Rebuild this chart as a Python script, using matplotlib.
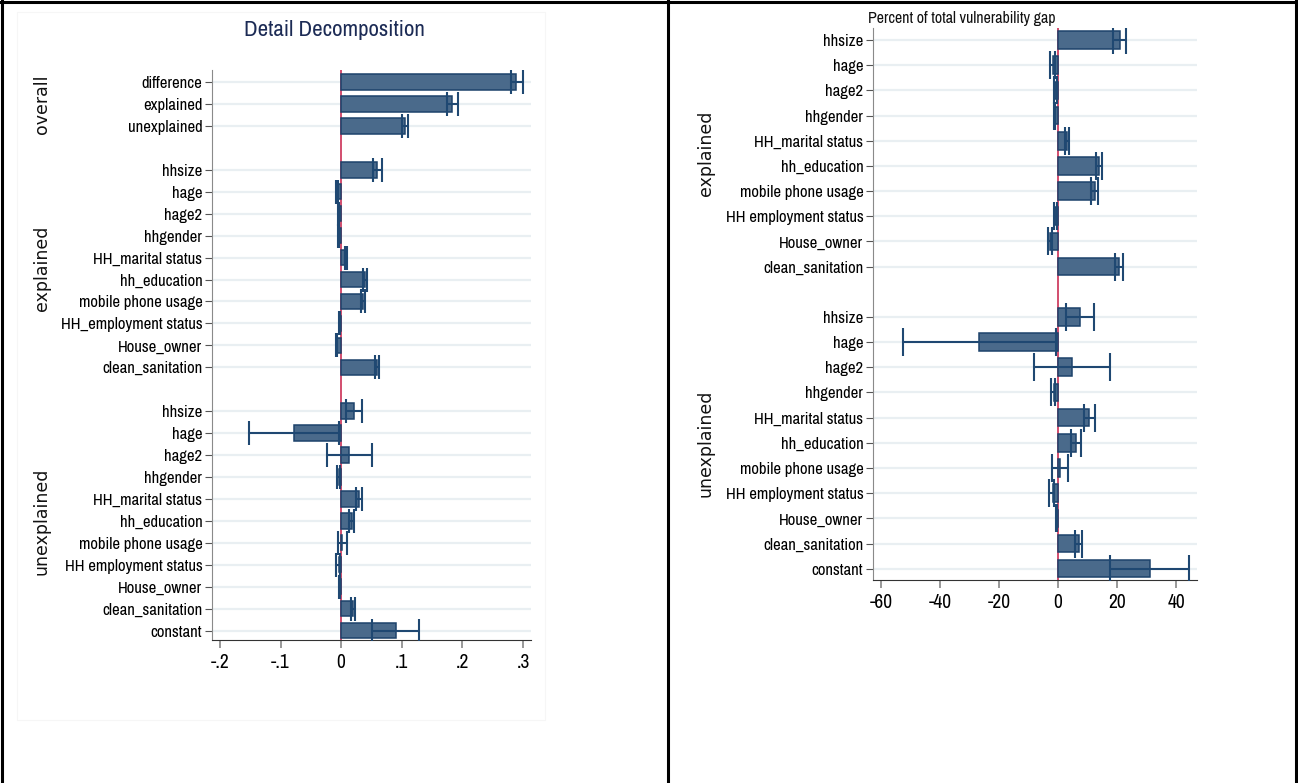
import numpy as np
import matplotlib.pyplot as plt
from matplotlib import font_manager as fm
from matplotlib.lines import Line2D
from matplotlib.patches import Rectangle
import matplotlib.transforms as mtransforms

# pick a narrow sans face if one is installed
_have = {f.name for f in fm.fontManager.ttflist}
_cands = ['Liberation Sans Narrow', 'Arial Narrow', 'Archivo Narrow', 'PT Sans Narrow',
          'Roboto Condensed', 'Open Sans Condensed', 'Liberation Sans']
NARROW = [c for c in _cands if c in _have][:1] + ['DejaVu Sans']

# data: left panel (difference decomposition)
overall_labels = ['difference', 'explained', 'unexplained']
overall_b = [0.288, 0.1835, 0.106]
overall_lo = [0.2795, 0.174, 0.100]
overall_hi = [0.299, 0.193, 0.111]

expl_labels_l = ['hhsize', 'hage', 'hage2', 'hhgender', 'HH_marital status', 'hh_education',
                 'mobile phone usage', 'HH_employment status', 'House_owner', 'clean_sanitation']
expl_b_l = [0.0593, -0.0066, -0.004, -0.0044, 0.008, 0.0396, 0.0357, -0.003, -0.008, 0.059]
expl_lo_l = [0.052, -0.0085, -0.0052, -0.0052, 0.006, 0.036, 0.032, -0.0038, -0.0093, 0.0555]
expl_hi_l = [0.0676, -0.0045, -0.0028, -0.0036, 0.0104, 0.043, 0.039, -0.0022, -0.0066, 0.063]

unexpl_labels_l = ['hhsize', 'hage', 'hage2', 'hhgender', 'HH_marital status', 'hh_education',
                   'mobile phone usage', 'HH employment status', 'House_owner', 'clean_sanitation',
                   'constant']
unexpl_b_l = [0.0209, -0.078, 0.0132, -0.004, 0.030, 0.0176, 0.0016, -0.004, -0.002, 0.0198, 0.0896]
unexpl_lo_l = [0.008, -0.152, -0.024, -0.007, 0.0247, 0.0126, -0.006, -0.008, -0.0028, 0.0165, 0.051]
unexpl_hi_l = [0.0346, -0.0044, 0.0505, -0.0016, 0.035, 0.0214, 0.0093, -0.002, -0.0012, 0.0236, 0.1275]

left_xticks = [-0.2, -0.1, 0, 0.1, 0.2, 0.3]
left_xticklabels = ['-.2', '-.1', '0', '.1', '.2', '.3']

# data: right panel (percent of total gap)
expl_labels_r = ['hhsize', 'hage', 'hage2', 'hhgender', 'HH_marital status', 'hh_education',
                 'mobile phone usage', 'HH employment status', 'House_owner', 'clean_sanitation']
expl_b_r = [20.9, -1.6, -0.9, -1.2, 3.05, 13.8, 12.4, -0.9, -2.7, 20.6]
expl_lo_r = [18.6, -2.6, -1.5, -1.5, 2.3, 12.9, 11.3, -1.2, -3.3, 19.3]
expl_hi_r = [23.0, -1.0, -0.3, -0.9, 3.7, 14.9, 13.4, -0.5, -2.0, 22.0]

unexpl_labels_r = ['hhsize', 'hage', 'hage2', 'hhgender', 'HH_marital status', 'hh_education',
                   'mobile phone usage', 'HH employment status', 'House_owner', 'clean_sanitation',
                   'constant']
unexpl_b_r = [7.6, -26.8, 4.7, -1.5, 10.6, 6.1, 0.6, -1.6, -0.5, 7.1, 31.2]
unexpl_lo_r = [2.8, -52.7, -8.2, -2.3, 8.7, 4.5, -1.9, -3.1, -0.8, 5.9, 17.6]
unexpl_hi_r = [12.2, -0.8, 17.6, -1.1, 12.4, 7.7, 3.5, -1.2, -0.2, 8.0, 44.3]

right_xticks = [-60, -40, -20, 0, 20, 40]

BAR = '#4a6a8b'
EDGE = '#1d426b'
ERR = '#1f4872'
ZERO = '#cf3f62'
GRID = '#e9eff2'

W, H = 1298, 783
fig = plt.figure(figsize=(W / 100, H / 100), dpi=100)


def px_axes(x0, y0, x1, y1):
    return fig.add_axes([x0 / W, 1 - y1 / H, (x1 - x0) / W, (y1 - y0) / H])


def draw_groups(ax, groups, capsize, grp_x):
    # groups: list of (name, labels, b, lo, hi); one empty row between groups
    ypos, labels = [], []
    pos = 0
    for name, labs, b, lo, hi in groups:
        y = np.arange(pos, pos + len(labs))
        b = np.array(b); lo = np.array(lo); hi = np.array(hi)
        ax.barh(y, b, height=0.7, color=BAR, edgecolor=EDGE, linewidth=1.1, zorder=3)
        ax.errorbar(b, y, xerr=[b - lo, hi - b], fmt='none', ecolor=ERR, elinewidth=1.5,
                    capsize=capsize, capthick=1.5, zorder=4)
        trans = mtransforms.blended_transform_factory(fig.transFigure, ax.transData)
        ax.text(grp_x / W, y.mean(), name, transform=trans, rotation=90, ha='center',
                va='center', fontsize=12.5, family='DejaVu Sans', color='#111111')
        ypos.extend(y); labels.extend(labs)
        pos += len(labs) + 1
    ax.set_yticks(ypos)
    ax.set_yticklabels(labels, family=NARROW, fontsize=12)
    for yy in ypos:
        ax.axhline(yy, color=GRID, lw=1.6, zorder=1)
    ax.axvline(0, color=ZERO, lw=1.3, zorder=2)
    for s in ['top', 'right']:
        ax.spines[s].set_visible(False)
    ax.spines['left'].set_color('#8a8a8a')
    ax.spines['bottom'].set_color('#333333')
    ax.tick_params(axis='y', length=5, color='#555555', pad=2)
    ax.tick_params(axis='x', length=6, color='#888888', width=1.2)


# left panel
axL = px_axes(212, 70, 531, 640)
draw_groups(axL, [('overall', overall_labels, overall_b, overall_lo, overall_hi),
                  ('explained', expl_labels_l, expl_b_l, expl_lo_l, expl_hi_l),
                  ('unexplained', unexpl_labels_l, unexpl_b_l, unexpl_lo_l, unexpl_hi_l)],
            capsize=8.5, grp_x=42)
axL.set_xlim(-0.213, 0.313)
axL.set_ylim(25.43, -0.55)
axL.set_xticks(left_xticks)
axL.set_xticklabels(left_xticklabels, family=NARROW, fontsize=14)
fig.text(334 / W, 1 - 30 / H, 'Detail Decomposition', ha='center', va='center',
         fontsize=16.5, family=NARROW, color='#1c2b55')

# right panel
axR = px_axes(873, 28, 1197, 580)
draw_groups(axR, [('explained', expl_labels_r, expl_b_r, expl_lo_r, expl_hi_r),
                  ('unexplained', unexpl_labels_r, unexpl_b_r, unexpl_lo_r, unexpl_hi_r)],
            capsize=10, grp_x=706)
axR.set_xlim(-62.7, 47.1)
axR.set_ylim(21.45, -0.48)
axR.set_xticks(right_xticks)
axR.set_xticklabels([str(v) for v in right_xticks], family=NARROW, fontsize=14)
fig.text(868 / W, 1 - 18 / H, 'Percent of total vulnerability gap', ha='left', va='center',
         fontsize=11.5, family=NARROW, color='#111111')

# frame lines
fig.add_artist(Rectangle((17 / W, 1 - 720 / H), (545 - 17) / W, (720 - 12) / H,
                         transform=fig.transFigure, fill=False, ec='#f6f6f6', lw=0.8))
for xs, ys in [([0, W], [1.5, 1.5]), ([2, 2], [0, H]), ([667.5, 667.5], [0, H]),
               ([1296, 1296], [0, H])]:
    fig.add_artist(Line2D([x / W for x in xs], [1 - y / H for y in ys],
                          transform=fig.transFigure, color='black', lw=2.2))

fig.savefig('out.png', dpi=100)
